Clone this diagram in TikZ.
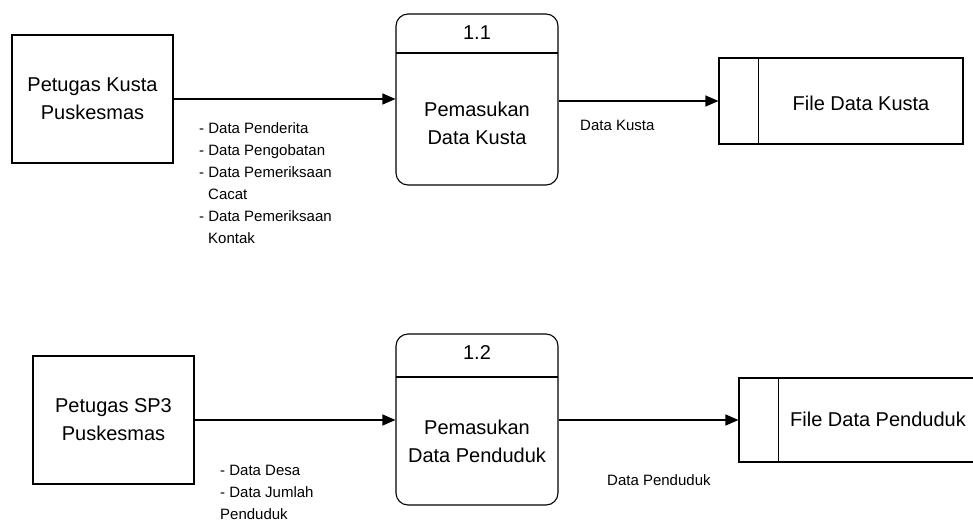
\documentclass[tikz,border=0pt]{standalone}
\usepackage{fontspec}
\setmainfont{Liberation Sans}
\usetikzlibrary{arrows.meta}
\begin{document}
\begin{tikzpicture}[x=1pt,y=-1pt,
  every node/.style={inner sep=0pt},
  thick line/.style={line width=1.1pt},
  entity/.style={draw, thick line, minimum width=161pt, minimum height=128pt,
    align=center, font=\fontsize{20}{28}\selectfont},
  process/.style={draw, thick line, rounded corners=12pt,
    minimum width=162pt, minimum height=171pt},
  store/.style={draw, thick line},
  bigtext/.style={font=\fontsize{20}{28}\selectfont, align=center},
  flowlabel/.style={font=\fontsize{15}{22}\selectfont, align=left, anchor=north west},
  flowname/.style={font=\fontsize{15}{22}\selectfont, anchor=west},
  flow/.style={thick line, -{Triangle[length=13pt,width=11pt]}}]
\useasboundingbox (0,0) rectangle (973,522);
\clip (0,0) rectangle (973,522);

% ---- upper level: leprosy data ----
\node[entity] (e1) at (92.5,99) {Petugas Kusta\\Puskesmas};
\node[process] (p1) at (477,99.5) {};
\draw[thick line] (396,53) -- (558,53);
\node[bigtext] (p1id) at (477,33) {1.1};
\node[bigtext] (p1txt) at (477,123) {Pemasukan\\Data Kusta};
\node[store, minimum width=244pt, minimum height=86pt] (s1) at (841,101) {};
\draw[thick line] ([xshift=40pt]s1.north west) -- ([xshift=40pt]s1.south west);
\node[bigtext] (s1txt) at (861,103) {File Data Kusta};

\draw[flow] (e1.east) -- (e1.east -| p1.west);
\draw[flow] (s1.west -| p1.east) -- (s1.west);

\node[flowlabel] (l1) at (199,122) {- Data Penderita\\- Data Pengobatan\\- Data Pemeriksaan\\\hspace*{9pt}Cacat\\- Data Pemeriksaan\\\hspace*{9pt}Kontak};
\node[flowname] (l2) at (580,125) {Data Kusta};

% ---- lower level: population data ----
\node[entity] (e2) at (113.5,420) {Petugas SP3\\Puskesmas};
\node[process] (p2) at (477,419.5) {};
\draw[thick line] (396,377) -- (558,377);
\node[bigtext] (p2id) at (477,353) {1.2};
\node[bigtext] (p2txt) at (477,441) {Pemasukan\\Data Penduduk};
\node[store, minimum width=251pt, minimum height=84pt] (s2) at (864.5,420) {};
\draw[thick line] ([xshift=40pt]s2.north west) -- ([xshift=40pt]s2.south west);
\node[bigtext] (s2txt) at (878,419) {File Data Penduduk};

\draw[flow] (e2.east) -- (e2.east -| p2.west);
\draw[flow] (s2.west -| p2.east) -- (s2.west);

\node[flowlabel] (l3) at (220,465) {- Data Desa\\- Data Jumlah\\Penduduk};
\node[flowname] (l4) at (607,480) {Data Penduduk};
\end{tikzpicture}
\end{document}
